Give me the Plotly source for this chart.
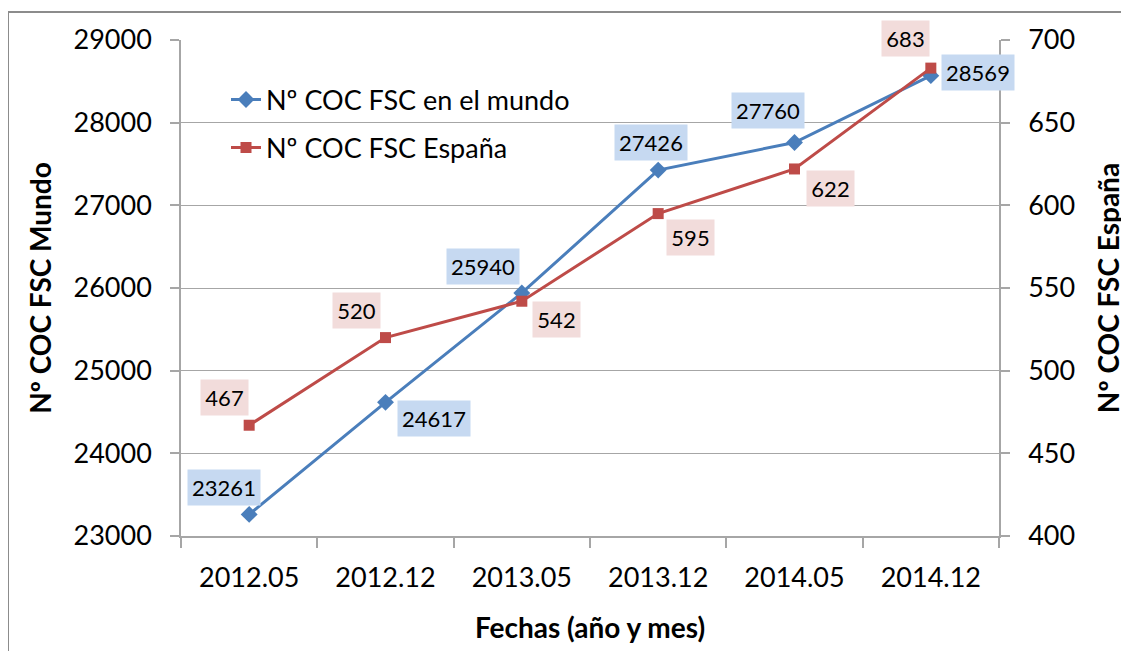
import plotly.graph_objects as go

fechas = ["2012.05", "2012.12", "2013.05", "2013.12", "2014.05", "2014.12"]
mundo = [23261, 24617, 25940, 27426, 27760, 28569]
espana = [467, 520, 542, 595, 622, 683]

name_mundo = "Nº COC FSC en el mundo"
name_espana = "Nº COC FSC España"

# label offsets (pixels) for data labels
mundo_shift = [(-25, 27), (48, -16), (-39, 26), (-7, 28), (-27, 32), (47, 3)]
espana_shift = [(-25, 28), (-29, 27), (35, -18), (32, -24), (36, -20), (-25, 30)]

BLUE = "#4A7EBB"
RED = "#BE4B48"
BLUE_BG = "#C6D9F1"
RED_BG = "#F2DCDB"
GRID = "#A6A6A6"
FONT = "Lato"

fig = go.Figure()
fig.add_trace(go.Scatter(
    x=fechas, y=mundo, name=name_mundo, mode="lines+markers",
    line=dict(color=BLUE, width=3),
    marker=dict(symbol="diamond", size=13, color=BLUE),
    legend="legend", showlegend=True,
))
fig.add_trace(go.Scatter(
    x=fechas, y=espana, name=name_espana, mode="lines+markers",
    line=dict(color=RED, width=3),
    marker=dict(symbol="square", size=11, color=RED),
    yaxis="y2", legend="legend2", showlegend=True,
))

annotations = []
for i, (yv, (dx, dy)) in enumerate(zip(mundo, mundo_shift)):
    annotations.append(dict(
        x=i, y=yv, xref="x", yref="y", text=str(yv), showarrow=False,
        xshift=dx, yshift=dy, bgcolor=BLUE_BG, borderpad=0,
        width=72, height=35, font=dict(family=FONT, size=22, color="#000000"),
    ))
for i, (yv, (dx, dy)) in enumerate(zip(espana, espana_shift)):
    annotations.append(dict(
        x=i, y=yv, xref="x", yref="y2", text=str(yv), showarrow=False,
        xshift=dx, yshift=dy, bgcolor=RED_BG, borderpad=0,
        width=47, height=35, font=dict(family=FONT, size=22, color="#000000"),
    ))

# page body has an 8px margin, so the figure is drawn 8px in from the corner
OFF = 8
W, H = 1129 - OFF, 651 - OFF
L, T = 181 - OFF, 40 - OFF
PW, PH = 818, 496
R, B = W - L - PW, H - T - PH

def px_x(px):
    return (px - OFF - L) / PW

def px_y(py):
    return 1 - (py - OFF - T) / PH

shapes = [
    dict(type="line", xref="paper", yref="paper", x0=px_x(8), y0=px_y(12), x1=px_x(1135), y1=px_y(12),
         line=dict(color="#8C8C8C", width=2)),
    dict(type="line", xref="paper", yref="paper", x0=px_x(8), y0=px_y(12), x1=px_x(8), y1=px_y(660),
         line=dict(color="#8C8C8C", width=2)),
]

fig.update_layout(
    width=W, height=H,
    margin=dict(l=L, r=R, t=T, b=B, autoexpand=False),
    paper_bgcolor="white", plot_bgcolor="white",
    font=dict(family=FONT, color="#000000"),
    annotations=annotations,
    shapes=shapes,
    showlegend=True,
    legend=dict(x=px_x(226), y=px_y(100), xanchor="left", yanchor="middle",
                bgcolor="rgba(0,0,0,0)", font=dict(family=FONT, size=27)),
    legend2=dict(x=px_x(226), y=px_y(148), xanchor="left", yanchor="middle",
                 bgcolor="rgba(0,0,0,0)", font=dict(family=FONT, size=27)),
    xaxis=dict(
        type="category", range=[-0.5, len(fechas) - 0.5], autorange=False,
        showgrid=False, showline=True, linecolor=GRID, linewidth=1.5,
        ticks="outside", ticklen=10, tickcolor=GRID, tickwidth=1.5, tickson="boundaries",
        tickfont=dict(family=FONT, size=27), ticklabelstandoff=17, tickangle=0,
        title=dict(text="<b>Fechas (año y mes)</b>", font=dict(family=FONT, size=28), standoff=26),
        automargin=False,
    ),
    yaxis=dict(
        range=[23000, 29000], dtick=1000, tickformat="d", showgrid=True, gridcolor=GRID, gridwidth=1.2,
        showline=True, linecolor=GRID, linewidth=1.5, zeroline=False,
        ticks="outside", ticklen=9, tickcolor=GRID, tickwidth=1.5,
        tickfont=dict(family=FONT, size=27), ticklabelstandoff=13,
        title=dict(text="<b>Nº COC FSC Mundo</b>", font=dict(family=FONT, size=28), standoff=14),
        automargin=False,
    ),
    yaxis2=dict(
        range=[400, 700], dtick=50, overlaying="y", side="right", showgrid=False,
        showline=True, linecolor=GRID, linewidth=1.5, zeroline=False,
        ticks="outside", ticklen=9, tickcolor=GRID, tickwidth=1.5,
        tickfont=dict(family=FONT, size=27), ticklabelstandoff=13,
        title=dict(text="<b>Nº COC FSC España</b>", font=dict(family=FONT, size=28), standoff=25),
        automargin=False,
    ),
)

fig.write_html("out.html")
